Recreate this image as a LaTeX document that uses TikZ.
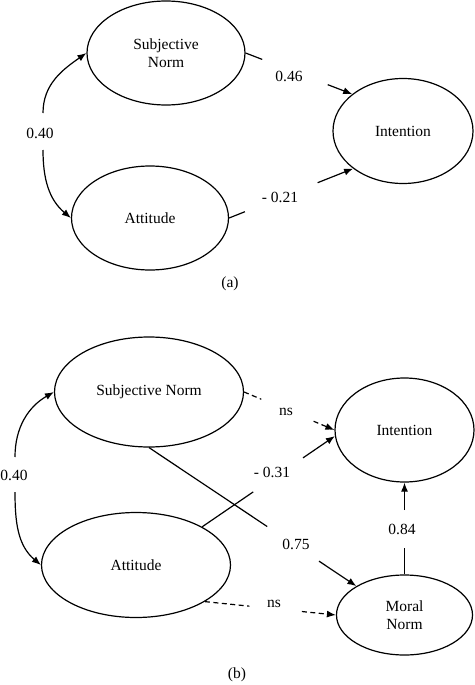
\documentclass[tikz,border=0pt]{standalone}
\usepackage{fontspec}
\setmainfont{Liberation Serif}
\usetikzlibrary{shapes.geometric,arrows.meta}
\begin{document}
\begin{tikzpicture}[x=1pt,y=-1pt,
  latent/.style={draw, ellipse, line width=1.2pt, inner sep=0pt, align=center,
    font=\fontsize{15.5}{18}\selectfont},
  lbl/.style={inner sep=0pt, font=\fontsize{15.5}{18}\selectfont},
  ln/.style={line width=1.2pt},
  arr/.style={line width=1.2pt, -{Latex[length=9pt,width=7pt]}},
  dsh/.style={dash pattern=on 5pt off 3.5pt}]
\useasboundingbox (0,0) rectangle (474,685);

% ---------- (a) ----------
\node[latent, minimum width=158pt, minimum height=104pt] (snA) at (166,53) {Subjective\\Norm};
\node[latent, minimum width=157pt, minimum height=104pt] (attA) at (150,218) {Attitude};
\node[latent, minimum width=140pt, minimum height=105pt] (intA) at (403,131) {Intention};

\node[lbl] (l040a) at (40,133) {0.40};
\node[lbl] (l046) at (289,76) {0.46};
\node[lbl] (l021) at (280,197) {- 0.21};
\node[lbl] (la) at (230,284) {(a)};

\coordinate (cA1) at (43,113);
\coordinate (cA2) at (43,150);
\draw[arr] (cA1) to[out=90,in=215] (snA.west);
\draw[arr] (cA2) to[out=-90,in=140] (attA.west);

\path (snA.east) -- (intA.144) coordinate[pos=0.156] (gA1) coordinate[pos=0.77] (gA2);
\draw[ln] (snA.east) -- (gA1);
\draw[arr] (gA2) -- (intA.144);

\path (attA.east) -- (intA.217) coordinate[pos=0.127] (gA3) coordinate[pos=0.714] (gA4);
\draw[ln] (attA.east) -- (gA3);
\draw[arr] (gA4) -- (intA.217);

% ---------- (b) ----------
\node[latent, minimum width=189pt, minimum height=110pt] (snB) at (149,392) {Subjective Norm};
\node[latent, minimum width=189pt, minimum height=105pt] (attB) at (136,565) {Attitude};
\node[latent, minimum width=139pt, minimum height=104pt] (intB) at (404.5,430) {Intention};
\node[latent, minimum width=136pt, minimum height=80pt] (mnB) at (404.5,615) {Moral\\Norm};

\node[lbl] (l040b) at (14,475) {0.40};
\node[lbl] (lns1) at (286,412) {ns};
\node[lbl] (l031) at (272,472) {- 0.31};
\node[lbl] (l075) at (296,544) {0.75};
\node[lbl] (lns2) at (274,604) {ns};
\node[lbl] (l084) at (402,529) {0.84};
\node[lbl] (lb) at (237,675) {(b)};

\coordinate (cB1) at (15,457);
\coordinate (cB2) at (15,492);
\draw[arr] (cB1) to[out=90,in=210] (snB.west);
\draw[arr] (cB2) to[out=-90,in=140] (attB.west);

% SN -> Intention (ns, dashed)
\path (snB.east) -- (intB.180) coordinate[pos=0.19] (gB1) coordinate[pos=0.77] (gB2);
\draw[ln,dsh] (snB.east) -- (gB1);
\draw[arr,dsh] (gB2) -- (intB.180);

% Attitude -> Intention (-0.31)
\path (attB.30) -- (intB.185) coordinate[pos=0.385] (gB3) coordinate[pos=0.76] (gB4);
\draw[ln] (attB.30) -- (gB3);
\draw[arr] (gB4) -- (intB.185);

% SN -> Moral Norm (0.75)
\path (snB.south) -- (mnB.149) coordinate[pos=0.57] (gB5) coordinate[pos=0.82] (gB6);
\draw[ln] (snB.south) -- (gB5);
\draw[arr] (gB6) -- (mnB.149);

% Attitude -> Moral Norm (ns, dashed)
\path (attB.332) -- (mnB.west) coordinate[pos=0.34] (gB7) coordinate[pos=0.74] (gB8);
\draw[ln,dsh] (attB.332) -- (gB7);
\draw[arr,dsh] (gB8) -- (mnB.west);

% Moral Norm -> Intention (0.84)
\path (mnB.north) -- (intB.south) coordinate[pos=0.29] (gB9) coordinate[pos=0.70] (gB10);
\draw[ln] (mnB.north) -- (gB9);
\draw[arr] (gB10) -- (intB.south);
\end{tikzpicture}
\end{document}
